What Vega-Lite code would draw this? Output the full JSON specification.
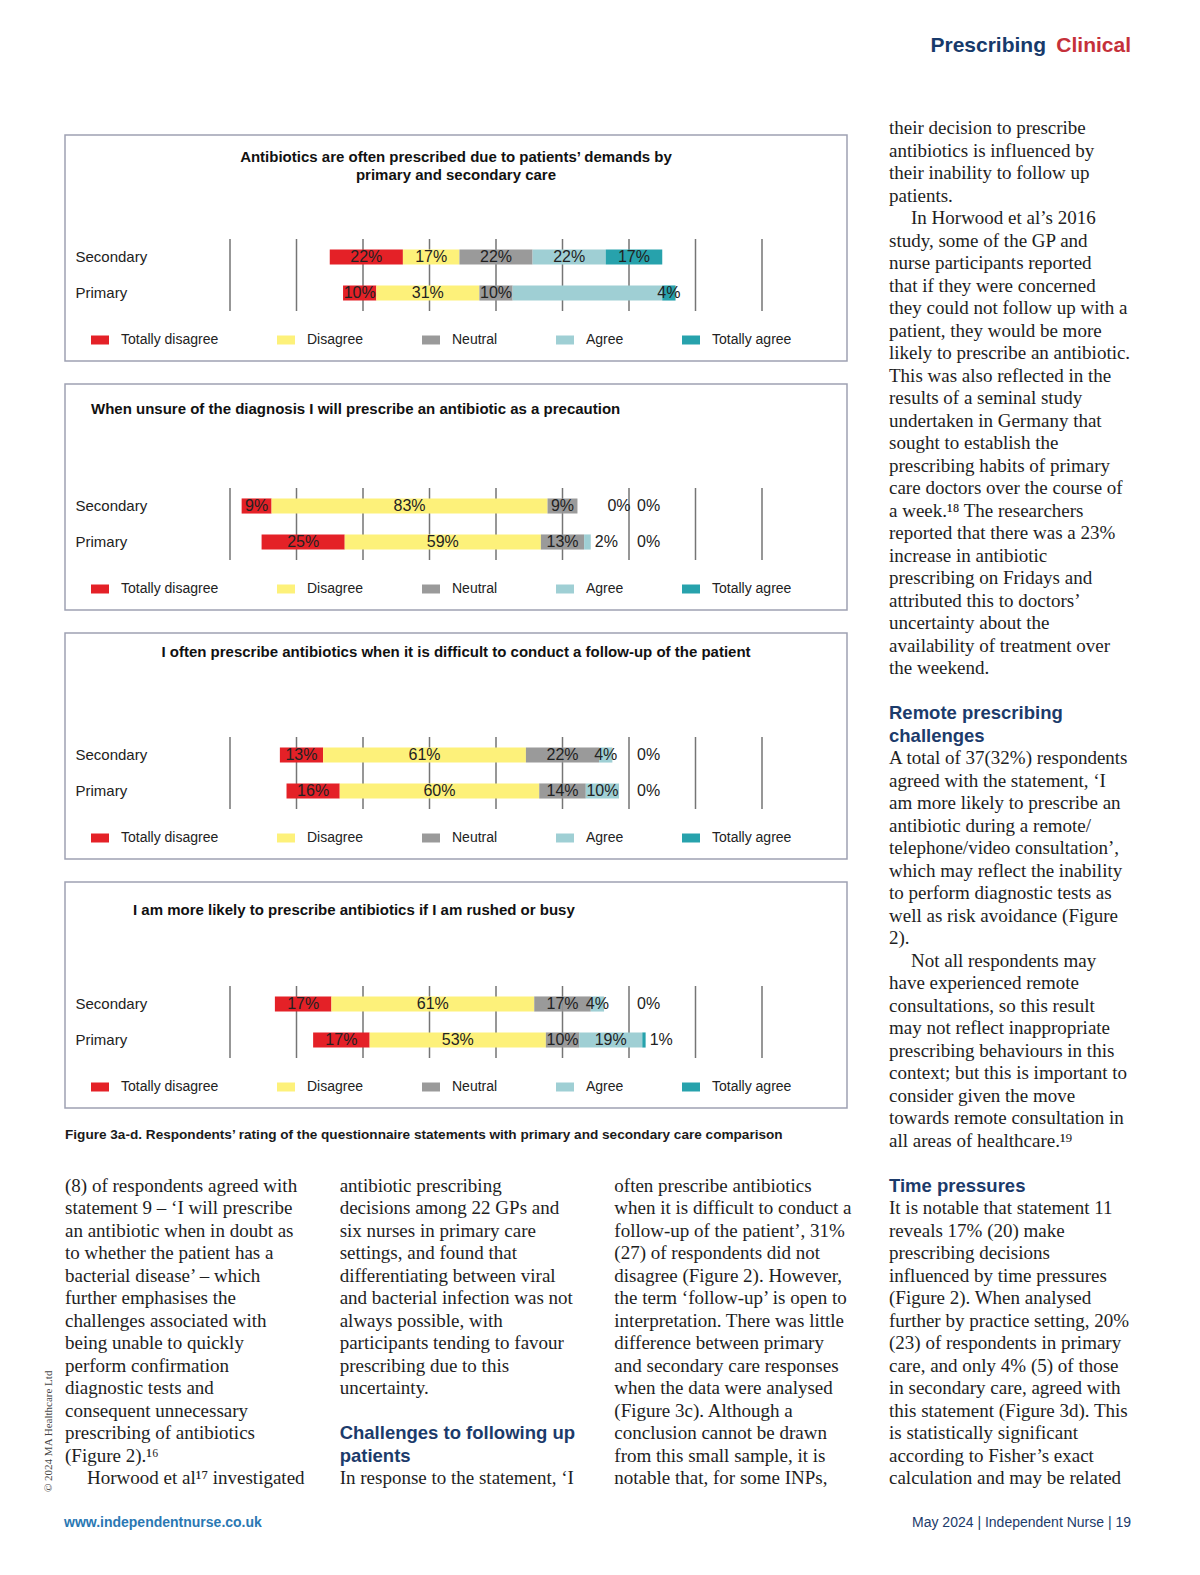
{
  "$schema": "https://vega.github.io/schema/vega-lite/v6.json",
  "background": "white",
  "padding": 0,
  "autosize": {"type": "pad"},
  "spacing": 0,
  "config": {
    "view": {"stroke": null},
    "font": "Liberation Sans",
    "axis": {"labelFontSize": 15, "labelFont": "Liberation Sans", "labelColor": "#222222"},
    "legend": {"labelFontSize": 14, "labelFont": "Liberation Sans", "labelColor": "#222222"}
  },
  "resolve": {"scale": {"color": "independent", "fill": "independent"}, "legend": {"color": "independent", "fill": "independent"}},
  "datasets": {
    "grid1": [
      {"g": -80, "group": ["Secondary", "Primary"]}, {"g": -60, "group": ["Secondary", "Primary"]},
      {"g": -40, "group": ["Secondary", "Primary"]}, {"g": -20, "group": ["Secondary", "Primary"]},
      {"g": 0, "group": ["Secondary", "Primary"]}, {"g": 20, "group": ["Secondary", "Primary"]},
      {"g": 40, "group": ["Secondary", "Primary"]}, {"g": 60, "group": ["Secondary", "Primary"]},
      {"g": 80, "group": ["Secondary", "Primary"]}
    ],
    "grid2": [
      {"g": -100, "group": ["Secondary", "Primary"]}, {"g": -80, "group": ["Secondary", "Primary"]},
      {"g": -60, "group": ["Secondary", "Primary"]}, {"g": -40, "group": ["Secondary", "Primary"]},
      {"g": -20, "group": ["Secondary", "Primary"]}, {"g": 0, "group": ["Secondary", "Primary"]},
      {"g": 20, "group": ["Secondary", "Primary"]}, {"g": 40, "group": ["Secondary", "Primary"]},
      {"g": 60, "group": ["Secondary", "Primary"]}
    ],
    "bars": [
      {"chart": "a", "group": "Secondary", "cat": "Totally disagree", "level": 2, "v": -22, "label": "22%"},
      {"chart": "a", "group": "Secondary", "cat": "Disagree", "level": 1, "v": -17, "label": "17%"},
      {"chart": "a", "group": "Secondary", "cat": "Neutral", "level": 0, "v": -11, "label": ""},
      {"chart": "a", "group": "Secondary", "cat": "Neutral", "level": 0, "v": 11, "label": "22%"},
      {"chart": "a", "group": "Secondary", "cat": "Agree", "level": 1, "v": 22, "label": "22%"},
      {"chart": "a", "group": "Secondary", "cat": "Totally agree", "level": 2, "v": 17, "label": "17%"},
      {"chart": "a", "group": "Primary", "cat": "Totally disagree", "level": 2, "v": -10, "label": "10%"},
      {"chart": "a", "group": "Primary", "cat": "Disagree", "level": 1, "v": -31, "label": "31%"},
      {"chart": "a", "group": "Primary", "cat": "Neutral", "level": 0, "v": -5, "label": ""},
      {"chart": "a", "group": "Primary", "cat": "Neutral", "level": 0, "v": 5, "label": "10%"},
      {"chart": "a", "group": "Primary", "cat": "Agree", "level": 1, "v": 45, "label": ""},
      {"chart": "a", "group": "Primary", "cat": "Totally agree", "level": 2, "v": 4, "label": "4%"},

      {"chart": "b", "group": "Secondary", "cat": "Totally disagree", "level": 2, "v": -9, "label": "9%"},
      {"chart": "b", "group": "Secondary", "cat": "Disagree", "level": 1, "v": -83, "label": "83%"},
      {"chart": "b", "group": "Secondary", "cat": "Neutral", "level": 0, "v": -4.5, "label": ""},
      {"chart": "b", "group": "Secondary", "cat": "Neutral", "level": 0, "v": 4.5, "label": "9%"},
      {"chart": "b", "group": "Secondary", "cat": "Agree", "level": 1, "v": 0, "label": "0%"},
      {"chart": "b", "group": "Secondary", "cat": "Totally agree", "level": 2, "v": 0, "label": "0%"},
      {"chart": "b", "group": "Primary", "cat": "Totally disagree", "level": 2, "v": -25, "label": "25%"},
      {"chart": "b", "group": "Primary", "cat": "Disagree", "level": 1, "v": -59, "label": "59%"},
      {"chart": "b", "group": "Primary", "cat": "Neutral", "level": 0, "v": -6.5, "label": ""},
      {"chart": "b", "group": "Primary", "cat": "Neutral", "level": 0, "v": 6.5, "label": "13%"},
      {"chart": "b", "group": "Primary", "cat": "Agree", "level": 1, "v": 2, "label": "2%"},
      {"chart": "b", "group": "Primary", "cat": "Totally agree", "level": 2, "v": 0, "label": "0%"},

      {"chart": "c", "group": "Secondary", "cat": "Totally disagree", "level": 2, "v": -13, "label": "13%"},
      {"chart": "c", "group": "Secondary", "cat": "Disagree", "level": 1, "v": -61, "label": "61%"},
      {"chart": "c", "group": "Secondary", "cat": "Neutral", "level": 0, "v": -11, "label": ""},
      {"chart": "c", "group": "Secondary", "cat": "Neutral", "level": 0, "v": 11, "label": "22%"},
      {"chart": "c", "group": "Secondary", "cat": "Agree", "level": 1, "v": 4, "label": "4%"},
      {"chart": "c", "group": "Secondary", "cat": "Totally agree", "level": 2, "v": 0, "label": "0%"},
      {"chart": "c", "group": "Primary", "cat": "Totally disagree", "level": 2, "v": -16, "label": "16%"},
      {"chart": "c", "group": "Primary", "cat": "Disagree", "level": 1, "v": -60, "label": "60%"},
      {"chart": "c", "group": "Primary", "cat": "Neutral", "level": 0, "v": -7, "label": ""},
      {"chart": "c", "group": "Primary", "cat": "Neutral", "level": 0, "v": 7, "label": "14%"},
      {"chart": "c", "group": "Primary", "cat": "Agree", "level": 1, "v": 10, "label": "10%"},
      {"chart": "c", "group": "Primary", "cat": "Totally agree", "level": 2, "v": 0, "label": "0%"},

      {"chart": "d", "group": "Secondary", "cat": "Totally disagree", "level": 2, "v": -17, "label": "17%"},
      {"chart": "d", "group": "Secondary", "cat": "Disagree", "level": 1, "v": -61, "label": "61%"},
      {"chart": "d", "group": "Secondary", "cat": "Neutral", "level": 0, "v": -8.5, "label": ""},
      {"chart": "d", "group": "Secondary", "cat": "Neutral", "level": 0, "v": 8.5, "label": "17%"},
      {"chart": "d", "group": "Secondary", "cat": "Agree", "level": 1, "v": 4, "label": "4%"},
      {"chart": "d", "group": "Secondary", "cat": "Totally agree", "level": 2, "v": 0, "label": "0%"},
      {"chart": "d", "group": "Primary", "cat": "Totally disagree", "level": 2, "v": -17, "label": "17%"},
      {"chart": "d", "group": "Primary", "cat": "Disagree", "level": 1, "v": -53, "label": "53%"},
      {"chart": "d", "group": "Primary", "cat": "Neutral", "level": 0, "v": -5, "label": ""},
      {"chart": "d", "group": "Primary", "cat": "Neutral", "level": 0, "v": 5, "label": "10%"},
      {"chart": "d", "group": "Primary", "cat": "Agree", "level": 1, "v": 19, "label": "19%"},
      {"chart": "d", "group": "Primary", "cat": "Totally agree", "level": 2, "v": 1, "label": "1%"}
    ],
    "text": [
      {"col": 4, "line": 0, "kind": "body", "text": "their decision to prescribe"},
      {"col": 4, "line": 1, "kind": "body", "text": "antibiotics is influenced by"},
      {"col": 4, "line": 2, "kind": "body", "text": "their inability to follow up"},
      {"col": 4, "line": 3, "kind": "body", "text": "patients."},
      {"col": 4, "line": 4, "kind": "para", "text": "In Horwood et al’s 2016"},
      {"col": 4, "line": 5, "kind": "body", "text": "study, some of the GP and"},
      {"col": 4, "line": 6, "kind": "body", "text": "nurse participants reported"},
      {"col": 4, "line": 7, "kind": "body", "text": "that if they were concerned"},
      {"col": 4, "line": 8, "kind": "body", "text": "they could not follow up with a"},
      {"col": 4, "line": 9, "kind": "body", "text": "patient, they would be more"},
      {"col": 4, "line": 10, "kind": "body", "text": "likely to prescribe an antibiotic."},
      {"col": 4, "line": 11, "kind": "body", "text": "This was also reflected in the"},
      {"col": 4, "line": 12, "kind": "body", "text": "results of a seminal study"},
      {"col": 4, "line": 13, "kind": "body", "text": "undertaken in Germany that"},
      {"col": 4, "line": 14, "kind": "body", "text": "sought to establish the"},
      {"col": 4, "line": 15, "kind": "body", "text": "prescribing habits of primary"},
      {"col": 4, "line": 16, "kind": "body", "text": "care doctors over the course of"},
      {"col": 4, "line": 17, "kind": "body", "text": "a week.¹⁸ The researchers"},
      {"col": 4, "line": 18, "kind": "body", "text": "reported that there was a 23%"},
      {"col": 4, "line": 19, "kind": "body", "text": "increase in antibiotic"},
      {"col": 4, "line": 20, "kind": "body", "text": "prescribing on Fridays and"},
      {"col": 4, "line": 21, "kind": "body", "text": "attributed this to doctors’"},
      {"col": 4, "line": 22, "kind": "body", "text": "uncertainty about the"},
      {"col": 4, "line": 23, "kind": "body", "text": "availability of treatment over"},
      {"col": 4, "line": 24, "kind": "body", "text": "the weekend."},
      {"col": 4, "line": 26, "kind": "heading", "text": "Remote prescribing"},
      {"col": 4, "line": 27, "kind": "heading", "text": "challenges"},
      {"col": 4, "line": 28, "kind": "body", "text": "A total of 37(32%) respondents"},
      {"col": 4, "line": 29, "kind": "body", "text": "agreed with the statement, ‘I"},
      {"col": 4, "line": 30, "kind": "body", "text": "am more likely to prescribe an"},
      {"col": 4, "line": 31, "kind": "body", "text": "antibiotic during a remote/"},
      {"col": 4, "line": 32, "kind": "body", "text": "telephone/video consultation’,"},
      {"col": 4, "line": 33, "kind": "body", "text": "which may reflect the inability"},
      {"col": 4, "line": 34, "kind": "body", "text": "to perform diagnostic tests as"},
      {"col": 4, "line": 35, "kind": "body", "text": "well as risk avoidance (Figure"},
      {"col": 4, "line": 36, "kind": "body", "text": "2)."},
      {"col": 4, "line": 37, "kind": "para", "text": "Not all respondents may"},
      {"col": 4, "line": 38, "kind": "body", "text": "have experienced remote"},
      {"col": 4, "line": 39, "kind": "body", "text": "consultations, so this result"},
      {"col": 4, "line": 40, "kind": "body", "text": "may not reflect inappropriate"},
      {"col": 4, "line": 41, "kind": "body", "text": "prescribing behaviours in this"},
      {"col": 4, "line": 42, "kind": "body", "text": "context; but this is important to"},
      {"col": 4, "line": 43, "kind": "body", "text": "consider given the move"},
      {"col": 4, "line": 44, "kind": "body", "text": "towards remote consultation in"},
      {"col": 4, "line": 45, "kind": "body", "text": "all areas of healthcare.¹⁹"},
      {"col": 4, "line": 47, "kind": "heading", "text": "Time pressures"},
      {"col": 4, "line": 48, "kind": "body", "text": "It is notable that statement 11"},
      {"col": 4, "line": 49, "kind": "body", "text": "reveals 17% (20) make"},
      {"col": 4, "line": 50, "kind": "body", "text": "prescribing decisions"},
      {"col": 4, "line": 51, "kind": "body", "text": "influenced by time pressures"},
      {"col": 4, "line": 52, "kind": "body", "text": "(Figure 2). When analysed"},
      {"col": 4, "line": 53, "kind": "body", "text": "further by practice setting, 20%"},
      {"col": 4, "line": 54, "kind": "body", "text": "(23) of respondents in primary"},
      {"col": 4, "line": 55, "kind": "body", "text": "care, and only 4% (5) of those"},
      {"col": 4, "line": 56, "kind": "body", "text": "in secondary care, agreed with"},
      {"col": 4, "line": 57, "kind": "body", "text": "this statement (Figure 3d). This"},
      {"col": 4, "line": 58, "kind": "body", "text": "is statistically significant"},
      {"col": 4, "line": 59, "kind": "body", "text": "according to Fisher’s exact"},
      {"col": 4, "line": 60, "kind": "body", "text": "calculation and may be related"},

      {"col": 1, "line": 47, "kind": "body", "text": "(8) of respondents agreed with"},
      {"col": 1, "line": 48, "kind": "body", "text": "statement 9 – ‘I will prescribe"},
      {"col": 1, "line": 49, "kind": "body", "text": "an antibiotic when in doubt as"},
      {"col": 1, "line": 50, "kind": "body", "text": "to whether the patient has a"},
      {"col": 1, "line": 51, "kind": "body", "text": "bacterial disease’ – which"},
      {"col": 1, "line": 52, "kind": "body", "text": "further emphasises the"},
      {"col": 1, "line": 53, "kind": "body", "text": "challenges associated with"},
      {"col": 1, "line": 54, "kind": "body", "text": "being unable to quickly"},
      {"col": 1, "line": 55, "kind": "body", "text": "perform confirmation"},
      {"col": 1, "line": 56, "kind": "body", "text": "diagnostic tests and"},
      {"col": 1, "line": 57, "kind": "body", "text": "consequent unnecessary"},
      {"col": 1, "line": 58, "kind": "body", "text": "prescribing of antibiotics"},
      {"col": 1, "line": 59, "kind": "body", "text": "(Figure 2).¹⁶"},
      {"col": 1, "line": 60, "kind": "para", "text": "Horwood et al¹⁷ investigated"},

      {"col": 2, "line": 47, "kind": "body", "text": "antibiotic prescribing"},
      {"col": 2, "line": 48, "kind": "body", "text": "decisions among 22 GPs and"},
      {"col": 2, "line": 49, "kind": "body", "text": "six nurses in primary care"},
      {"col": 2, "line": 50, "kind": "body", "text": "settings, and found that"},
      {"col": 2, "line": 51, "kind": "body", "text": "differentiating between viral"},
      {"col": 2, "line": 52, "kind": "body", "text": "and bacterial infection was not"},
      {"col": 2, "line": 53, "kind": "body", "text": "always possible, with"},
      {"col": 2, "line": 54, "kind": "body", "text": "participants tending to favour"},
      {"col": 2, "line": 55, "kind": "body", "text": "prescribing due to this"},
      {"col": 2, "line": 56, "kind": "body", "text": "uncertainty."},
      {"col": 2, "line": 58, "kind": "heading", "text": "Challenges to following up"},
      {"col": 2, "line": 59, "kind": "heading", "text": "patients"},
      {"col": 2, "line": 60, "kind": "body", "text": "In response to the statement, ‘I"},

      {"col": 3, "line": 47, "kind": "body", "text": "often prescribe antibiotics"},
      {"col": 3, "line": 48, "kind": "body", "text": "when it is difficult to conduct a"},
      {"col": 3, "line": 49, "kind": "body", "text": "follow-up of the patient’, 31%"},
      {"col": 3, "line": 50, "kind": "body", "text": "(27) of respondents did not"},
      {"col": 3, "line": 51, "kind": "body", "text": "disagree (Figure 2). However,"},
      {"col": 3, "line": 52, "kind": "body", "text": "the term ‘follow-up’ is open to"},
      {"col": 3, "line": 53, "kind": "body", "text": "interpretation. There was little"},
      {"col": 3, "line": 54, "kind": "body", "text": "difference between primary"},
      {"col": 3, "line": 55, "kind": "body", "text": "and secondary care responses"},
      {"col": 3, "line": 56, "kind": "body", "text": "when the data were analysed"},
      {"col": 3, "line": 57, "kind": "body", "text": "(Figure 3c). Although a"},
      {"col": 3, "line": 58, "kind": "body", "text": "conclusion cannot be drawn"},
      {"col": 3, "line": 59, "kind": "body", "text": "from this small sample, it is"},
      {"col": 3, "line": 60, "kind": "body", "text": "notable that, for some INPs,"}
    ]
  },
  "vconcat": [
    {
      "width": 1200, "height": 92,
      "data": {"values": [{"section": "Prescribing"}, {"section": "Clinical"}]},
      "mark": {"type": "text", "align": "right", "baseline": "middle", "font": "Liberation Sans", "fontSize": 21, "fontWeight": "bold"},
      "encoding": {
        "x": {"field": "section", "type": "nominal", "scale": {"type": "point", "domain": ["Prescribing", "Clinical"], "range": [1046, 1131], "padding": 0}, "axis": null},
        "text": {"field": "section", "type": "nominal"},
        "color": {"field": "section", "type": "nominal", "scale": {"domain": ["Prescribing", "Clinical"], "range": ["#173a6b", "#c5303a"]}, "legend": null}
      }
    },
    {
      "hconcat": [
        {
          "width": 64, "height": 1408,
          "data": {"values": [{"n": 1}]},
          "mark": {"type": "text", "text": " "},
          "title": {"text": "© 2024 MA Healthcare Ltd", "orient": "right", "anchor": "end", "angle": -90, "align": "left", "baseline": "middle", "offset": -26, "dx": 8, "font": "Liberation Serif", "fontSize": 11, "fontWeight": "normal", "color": "#444444"}
        },
        {
          "vconcat": [
            {"width": 782, "height": 20, "data": {"values": [{"n": 1}]}, "mark": {"type": "text", "text": " "}},
            {
              "width": 782, "height": 226,
              "view": {"stroke": "#9ea1b3", "strokeWidth": 1.5},
              "title": {"text": ["Antibiotics are often prescribed due to patients’ demands by", "primary and secondary care"], "anchor": "middle", "frame": "group", "offset": -47.5, "font": "Liberation Sans", "fontSize": 15, "fontWeight": "bold", "color": "#111111", "lineHeight": 18},
              "encoding": {"y": {"field": "group", "type": "nominal", "scale": {"domain": ["Secondary", "Primary"], "range": [104, 176], "paddingInner": 0, "paddingOuter": 0}, "axis": {"title": null, "domain": false, "ticks": false, "labelAlign": "left", "labelPadding": -10, "labelFontSize": 15, "labelColor": "#222222", "labelFont": "Liberation Sans", "labelBaseline": "middle"}}},
              "layer": [
                {"data": {"name": "grid1"}, "transform": [{"flatten": ["group"]}], "mark": {"type": "tick", "size": 36, "thickness": 1.5, "color": "#3a3a3a"}, "encoding": {"x": {"field": "g", "type": "quantitative", "scale": {"domain": [-80, 80], "range": [165, 697], "nice": false}, "axis": null}}},
                {"data": {"name": "bars"}, "transform": [{"filter": "datum.chart == 'a'"}], "mark": {"type": "bar", "height": {"band": 0.42}}, "encoding": {"x": {"field": "v", "type": "quantitative", "stack": "zero", "scale": {"domain": [-80, 80], "range": [165, 697], "nice": false}, "axis": null}, "fill": {"field": "cat", "type": "nominal", "scale": {"domain": ["Totally disagree", "Disagree", "Neutral", "Agree", "Totally agree"], "range": ["#e42127", "#fdf17a", "#9a9a9a", "#9fcfd4", "#27a2ac"]}, "legend": {"orient": "none", "legendX": 26, "legendY": 196, "direction": "horizontal", "columns": 5, "title": null, "symbolType": "M-1,-0.5H1V0.5H-1Z", "symbolSize": 324, "symbolStrokeWidth": 0, "labelFont": "Liberation Sans", "labelFontSize": 14, "labelColor": "#222222", "labelOffset": 12, "columnPadding": 58, "padding": 0}}, "detail": {"field": "cat", "type": "nominal"}, "order": {"field": "level", "type": "quantitative"}}},
                {"data": {"name": "bars"}, "transform": [{"filter": "datum.chart == 'a'"}], "mark": {"type": "text", "font": "Liberation Sans", "fontSize": 16, "color": "#222222", "baseline": "middle", "align": "center"}, "encoding": {"x": {"field": "v", "type": "quantitative", "stack": "zero", "bandPosition": 0.5, "scale": {"domain": [-80, 80], "range": [165, 697], "nice": false}, "axis": null}, "detail": {"field": "cat", "type": "nominal"}, "order": {"field": "level", "type": "quantitative"}, "text": {"condition": {"test": "datum.level == 0 || (datum.v >= 0 && datum.v <= 2)", "value": ""}, "field": "label", "type": "nominal"}}},
                {"data": {"name": "bars"}, "transform": [{"filter": "datum.chart == 'a' && datum.level == 0 && datum.v > 0"}], "mark": {"type": "text", "font": "Liberation Sans", "fontSize": 16, "color": "#222222", "baseline": "middle", "align": "center"}, "encoding": {"x": {"datum": 0, "type": "quantitative", "scale": {"domain": [-80, 80], "range": [165, 697], "nice": false}, "axis": null}, "text": {"field": "label", "type": "nominal"}}}
              ]
            },
            {
              "width": 782, "height": 226,
              "view": {"stroke": "#9ea1b3", "strokeWidth": 1.5},
              "title": {"text": "When unsure of the diagnosis I will prescribe an antibiotic as a precaution", "anchor": "start", "frame": "group", "dx": 26, "offset": -32.5, "font": "Liberation Sans", "fontSize": 15, "fontWeight": "bold", "color": "#111111"},
              "encoding": {"y": {"field": "group", "type": "nominal", "scale": {"domain": ["Secondary", "Primary"], "range": [104, 176], "paddingInner": 0, "paddingOuter": 0}, "axis": {"title": null, "domain": false, "ticks": false, "labelAlign": "left", "labelPadding": -10, "labelFontSize": 15, "labelColor": "#222222", "labelFont": "Liberation Sans", "labelBaseline": "middle"}}},
              "layer": [
                {"data": {"name": "grid2"}, "transform": [{"flatten": ["group"]}], "mark": {"type": "tick", "size": 36, "thickness": 1.5, "color": "#3a3a3a"}, "encoding": {"x": {"field": "g", "type": "quantitative", "scale": {"domain": [-100, 60], "range": [165, 697], "nice": false}, "axis": null}}},
                {"data": {"name": "bars"}, "transform": [{"filter": "datum.chart == 'b'"}], "mark": {"type": "bar", "height": {"band": 0.42}}, "encoding": {"x": {"field": "v", "type": "quantitative", "stack": "zero", "scale": {"domain": [-100, 60], "range": [165, 697], "nice": false}, "axis": null}, "fill": {"field": "cat", "type": "nominal", "scale": {"domain": ["Totally disagree", "Disagree", "Neutral", "Agree", "Totally agree"], "range": ["#e42127", "#fdf17a", "#9a9a9a", "#9fcfd4", "#27a2ac"]}, "legend": {"orient": "none", "legendX": 26, "legendY": 196, "direction": "horizontal", "columns": 5, "title": null, "symbolType": "M-1,-0.5H1V0.5H-1Z", "symbolSize": 324, "symbolStrokeWidth": 0, "labelFont": "Liberation Sans", "labelFontSize": 14, "labelColor": "#222222", "labelOffset": 12, "columnPadding": 58, "padding": 0}}, "detail": {"field": "cat", "type": "nominal"}, "order": {"field": "level", "type": "quantitative"}}},
                {"data": {"name": "bars"}, "transform": [{"filter": "datum.chart == 'b'"}], "mark": {"type": "text", "font": "Liberation Sans", "fontSize": 16, "color": "#222222", "baseline": "middle", "align": "center"}, "encoding": {"x": {"field": "v", "type": "quantitative", "stack": "zero", "bandPosition": 0.5, "scale": {"domain": [-100, 60], "range": [165, 697], "nice": false}, "axis": null}, "detail": {"field": "cat", "type": "nominal"}, "order": {"field": "level", "type": "quantitative"}, "text": {"condition": {"test": "datum.level == 0 || (datum.v >= 0 && datum.v <= 2)", "value": ""}, "field": "label", "type": "nominal"}}},
                {"data": {"name": "bars"}, "transform": [{"filter": "datum.chart == 'b' && datum.level == 0 && datum.v > 0"}], "mark": {"type": "text", "font": "Liberation Sans", "fontSize": 16, "color": "#222222", "baseline": "middle", "align": "center"}, "encoding": {"x": {"datum": 0, "type": "quantitative", "scale": {"domain": [-100, 60], "range": [165, 697], "nice": false}, "axis": null}, "text": {"field": "label", "type": "nominal"}}},
                {"data": {"name": "bars"}, "transform": [{"filter": "datum.chart == 'b'"}, {"stack": "v", "groupby": ["group"], "sort": [{"field": "level", "order": "ascending"}], "as": ["s0", "s1"]}, {"filter": "datum.level == 1 && datum.v == 0"}], "mark": {"type": "text", "font": "Liberation Sans", "fontSize": 16, "color": "#222222", "baseline": "middle", "align": "left", "dx": 30}, "encoding": {"x": {"field": "s1", "type": "quantitative", "scale": {"domain": [-100, 60], "range": [165, 697], "nice": false}, "axis": null}, "text": {"field": "label", "type": "nominal"}}},
                {"data": {"name": "bars"}, "transform": [{"filter": "datum.chart == 'b'"}, {"stack": "v", "groupby": ["group"], "sort": [{"field": "level", "order": "ascending"}], "as": ["s0", "s1"]}, {"filter": "datum.level > 0 && datum.v > 0 && datum.v <= 2"}], "mark": {"type": "text", "font": "Liberation Sans", "fontSize": 16, "color": "#222222", "baseline": "middle", "align": "left", "dx": 4}, "encoding": {"x": {"field": "s1", "type": "quantitative", "scale": {"domain": [-100, 60], "range": [165, 697], "nice": false}, "axis": null}, "text": {"field": "label", "type": "nominal"}}},
                {"data": {"name": "bars"}, "transform": [{"filter": "datum.chart == 'b' && datum.level == 2 && datum.v == 0"}], "mark": {"type": "text", "font": "Liberation Sans", "fontSize": 16, "color": "#222222", "baseline": "middle", "align": "left", "dx": 8}, "encoding": {"x": {"datum": 20, "type": "quantitative", "scale": {"domain": [-100, 60], "range": [165, 697], "nice": false}, "axis": null}, "text": {"field": "label", "type": "nominal"}}}
              ]
            },
            {
              "width": 782, "height": 226,
              "view": {"stroke": "#9ea1b3", "strokeWidth": 1.5},
              "title": {"text": "I often prescribe antibiotics when it is difficult to conduct a follow-up of the patient", "anchor": "middle", "frame": "group", "offset": -27, "font": "Liberation Sans", "fontSize": 15, "fontWeight": "bold", "color": "#111111"},
              "encoding": {"y": {"field": "group", "type": "nominal", "scale": {"domain": ["Secondary", "Primary"], "range": [104, 176], "paddingInner": 0, "paddingOuter": 0}, "axis": {"title": null, "domain": false, "ticks": false, "labelAlign": "left", "labelPadding": -10, "labelFontSize": 15, "labelColor": "#222222", "labelFont": "Liberation Sans", "labelBaseline": "middle"}}},
              "layer": [
                {"data": {"name": "grid2"}, "transform": [{"flatten": ["group"]}], "mark": {"type": "tick", "size": 36, "thickness": 1.5, "color": "#3a3a3a"}, "encoding": {"x": {"field": "g", "type": "quantitative", "scale": {"domain": [-100, 60], "range": [165, 697], "nice": false}, "axis": null}}},
                {"data": {"name": "bars"}, "transform": [{"filter": "datum.chart == 'c'"}], "mark": {"type": "bar", "height": {"band": 0.42}}, "encoding": {"x": {"field": "v", "type": "quantitative", "stack": "zero", "scale": {"domain": [-100, 60], "range": [165, 697], "nice": false}, "axis": null}, "fill": {"field": "cat", "type": "nominal", "scale": {"domain": ["Totally disagree", "Disagree", "Neutral", "Agree", "Totally agree"], "range": ["#e42127", "#fdf17a", "#9a9a9a", "#9fcfd4", "#27a2ac"]}, "legend": {"orient": "none", "legendX": 26, "legendY": 196, "direction": "horizontal", "columns": 5, "title": null, "symbolType": "M-1,-0.5H1V0.5H-1Z", "symbolSize": 324, "symbolStrokeWidth": 0, "labelFont": "Liberation Sans", "labelFontSize": 14, "labelColor": "#222222", "labelOffset": 12, "columnPadding": 58, "padding": 0}}, "detail": {"field": "cat", "type": "nominal"}, "order": {"field": "level", "type": "quantitative"}}},
                {"data": {"name": "bars"}, "transform": [{"filter": "datum.chart == 'c'"}], "mark": {"type": "text", "font": "Liberation Sans", "fontSize": 16, "color": "#222222", "baseline": "middle", "align": "center"}, "encoding": {"x": {"field": "v", "type": "quantitative", "stack": "zero", "bandPosition": 0.5, "scale": {"domain": [-100, 60], "range": [165, 697], "nice": false}, "axis": null}, "detail": {"field": "cat", "type": "nominal"}, "order": {"field": "level", "type": "quantitative"}, "text": {"condition": {"test": "datum.level == 0 || (datum.v >= 0 && datum.v <= 2)", "value": ""}, "field": "label", "type": "nominal"}}},
                {"data": {"name": "bars"}, "transform": [{"filter": "datum.chart == 'c' && datum.level == 0 && datum.v > 0"}], "mark": {"type": "text", "font": "Liberation Sans", "fontSize": 16, "color": "#222222", "baseline": "middle", "align": "center"}, "encoding": {"x": {"datum": 0, "type": "quantitative", "scale": {"domain": [-100, 60], "range": [165, 697], "nice": false}, "axis": null}, "text": {"field": "label", "type": "nominal"}}},
                {"data": {"name": "bars"}, "transform": [{"filter": "datum.chart == 'c' && datum.level == 2 && datum.v == 0"}], "mark": {"type": "text", "font": "Liberation Sans", "fontSize": 16, "color": "#222222", "baseline": "middle", "align": "left", "dx": 8}, "encoding": {"x": {"datum": 20, "type": "quantitative", "scale": {"domain": [-100, 60], "range": [165, 697], "nice": false}, "axis": null}, "text": {"field": "label", "type": "nominal"}}}
              ]
            },
            {
              "width": 782, "height": 226,
              "view": {"stroke": "#9ea1b3", "strokeWidth": 1.5},
              "title": {"text": "I am more likely to prescribe antibiotics if I am rushed or busy", "anchor": "start", "frame": "group", "dx": 68, "offset": -36, "font": "Liberation Sans", "fontSize": 15, "fontWeight": "bold", "color": "#111111"},
              "encoding": {"y": {"field": "group", "type": "nominal", "scale": {"domain": ["Secondary", "Primary"], "range": [104, 176], "paddingInner": 0, "paddingOuter": 0}, "axis": {"title": null, "domain": false, "ticks": false, "labelAlign": "left", "labelPadding": -10, "labelFontSize": 15, "labelColor": "#222222", "labelFont": "Liberation Sans", "labelBaseline": "middle"}}},
              "layer": [
                {"data": {"name": "grid2"}, "transform": [{"flatten": ["group"]}], "mark": {"type": "tick", "size": 36, "thickness": 1.5, "color": "#3a3a3a"}, "encoding": {"x": {"field": "g", "type": "quantitative", "scale": {"domain": [-100, 60], "range": [165, 697], "nice": false}, "axis": null}}},
                {"data": {"name": "bars"}, "transform": [{"filter": "datum.chart == 'd'"}], "mark": {"type": "bar", "height": {"band": 0.42}}, "encoding": {"x": {"field": "v", "type": "quantitative", "stack": "zero", "scale": {"domain": [-100, 60], "range": [165, 697], "nice": false}, "axis": null}, "fill": {"field": "cat", "type": "nominal", "scale": {"domain": ["Totally disagree", "Disagree", "Neutral", "Agree", "Totally agree"], "range": ["#e42127", "#fdf17a", "#9a9a9a", "#9fcfd4", "#27a2ac"]}, "legend": {"orient": "none", "legendX": 26, "legendY": 196, "direction": "horizontal", "columns": 5, "title": null, "symbolType": "M-1,-0.5H1V0.5H-1Z", "symbolSize": 324, "symbolStrokeWidth": 0, "labelFont": "Liberation Sans", "labelFontSize": 14, "labelColor": "#222222", "labelOffset": 12, "columnPadding": 58, "padding": 0}}, "detail": {"field": "cat", "type": "nominal"}, "order": {"field": "level", "type": "quantitative"}}},
                {"data": {"name": "bars"}, "transform": [{"filter": "datum.chart == 'd'"}], "mark": {"type": "text", "font": "Liberation Sans", "fontSize": 16, "color": "#222222", "baseline": "middle", "align": "center"}, "encoding": {"x": {"field": "v", "type": "quantitative", "stack": "zero", "bandPosition": 0.5, "scale": {"domain": [-100, 60], "range": [165, 697], "nice": false}, "axis": null}, "detail": {"field": "cat", "type": "nominal"}, "order": {"field": "level", "type": "quantitative"}, "text": {"condition": {"test": "datum.level == 0 || (datum.v >= 0 && datum.v <= 2)", "value": ""}, "field": "label", "type": "nominal"}}},
                {"data": {"name": "bars"}, "transform": [{"filter": "datum.chart == 'd' && datum.level == 0 && datum.v > 0"}], "mark": {"type": "text", "font": "Liberation Sans", "fontSize": 16, "color": "#222222", "baseline": "middle", "align": "center"}, "encoding": {"x": {"datum": 0, "type": "quantitative", "scale": {"domain": [-100, 60], "range": [165, 697], "nice": false}, "axis": null}, "text": {"field": "label", "type": "nominal"}}},
                {"data": {"name": "bars"}, "transform": [{"filter": "datum.chart == 'd'"}, {"stack": "v", "groupby": ["group"], "sort": [{"field": "level", "order": "ascending"}], "as": ["s0", "s1"]}, {"filter": "datum.level > 0 && datum.v > 0 && datum.v <= 2"}], "mark": {"type": "text", "font": "Liberation Sans", "fontSize": 16, "color": "#222222", "baseline": "middle", "align": "left", "dx": 4}, "encoding": {"x": {"field": "s1", "type": "quantitative", "scale": {"domain": [-100, 60], "range": [165, 697], "nice": false}, "axis": null}, "text": {"field": "label", "type": "nominal"}}},
                {"data": {"name": "bars"}, "transform": [{"filter": "datum.chart == 'd' && datum.level == 2 && datum.v == 0"}], "mark": {"type": "text", "font": "Liberation Sans", "fontSize": 16, "color": "#222222", "baseline": "middle", "align": "left", "dx": 8}, "encoding": {"x": {"datum": 20, "type": "quantitative", "scale": {"domain": [-100, 60], "range": [165, 697], "nice": false}, "axis": null}, "text": {"field": "label", "type": "nominal"}}}
              ]
            },
            {
              "width": 800, "height": 369,
              "title": {"text": "Figure 3a-d. Respondents’ rating of the questionnaire statements with primary and secondary care comparison", "anchor": "start", "frame": "group", "offset": -11, "font": "Liberation Sans", "fontSize": 13.6, "fontWeight": "bold", "color": "#1a1a1a"},
              "data": {"name": "text"},
              "transform": [{"filter": "datum.col < 4"}],
              "encoding": {
                "x": {"field": "col", "type": "quantitative", "scale": {"domain": [1, 4], "range": [0, 824], "nice": false, "zero": false}, "axis": null},
                "y": {"field": "line", "type": "quantitative", "scale": {"domain": [0, 60], "range": [-1003, 347], "nice": false, "zero": false}, "axis": null},
                "text": {"field": "text", "type": "nominal"}
              },
              "layer": [
                {"transform": [{"filter": "datum.kind == 'body'"}], "mark": {"type": "text", "align": "left", "baseline": "middle", "font": "Liberation Serif", "fontSize": 19, "color": "#1e1e1e"}},
                {"transform": [{"filter": "datum.kind == 'para'"}], "mark": {"type": "text", "align": "left", "baseline": "middle", "dx": 22, "font": "Liberation Serif", "fontSize": 19, "color": "#1e1e1e"}},
                {"transform": [{"filter": "datum.kind == 'heading'"}], "mark": {"type": "text", "align": "left", "baseline": "middle", "font": "Liberation Sans", "fontSize": 18.5, "fontWeight": "bold", "color": "#1c3b6b"}}
              ]
            }
          ],
          "spacing": 23,
          "bounds": "flush",
          "resolve": {"scale": {"color": "independent", "fill": "independent"}, "legend": {"color": "independent", "fill": "independent"}}
        },
        {
          "width": 336, "height": 1408,
          "data": {"name": "text"},
          "transform": [{"filter": "datum.col == 4"}],
          "encoding": {
            "x": {"field": "col", "type": "quantitative", "scale": {"domain": [1, 4], "range": [-800, 24], "nice": false, "zero": false}, "axis": null},
            "y": {"field": "line", "type": "quantitative", "scale": {"domain": [0, 60], "range": [36, 1386], "nice": false, "zero": false}, "axis": null},
            "text": {"field": "text", "type": "nominal"}
          },
          "layer": [
            {"transform": [{"filter": "datum.kind == 'body'"}], "mark": {"type": "text", "align": "left", "baseline": "middle", "font": "Liberation Serif", "fontSize": 19, "color": "#1e1e1e"}},
            {"transform": [{"filter": "datum.kind == 'para'"}], "mark": {"type": "text", "align": "left", "baseline": "middle", "dx": 22, "font": "Liberation Serif", "fontSize": 19, "color": "#1e1e1e"}},
            {"transform": [{"filter": "datum.kind == 'heading'"}], "mark": {"type": "text", "align": "left", "baseline": "middle", "font": "Liberation Sans", "fontSize": 18.5, "fontWeight": "bold", "color": "#1c3b6b"}}
          ]
        }
      ],
      "spacing": 0,
      "resolve": {"scale": {"color": "independent", "fill": "independent"}, "legend": {"color": "independent", "fill": "independent"}}
    },
    {
      "width": 1200, "height": 46,
      "data": {"values": [
        {"item": "url", "text": "www.independentnurse.co.uk"},
        {"item": "folio", "text": "May 2024 | Independent Nurse | 19"}
      ]},
      "encoding": {
        "x": {"field": "item", "type": "nominal", "scale": {"type": "point", "domain": ["url", "folio"], "range": [64, 1131], "padding": 0}, "axis": null},
        "text": {"field": "text", "type": "nominal"}
      },
      "layer": [
        {"transform": [{"filter": "datum.item == 'url'"}], "mark": {"type": "text", "align": "left", "baseline": "middle", "font": "Liberation Sans", "fontSize": 14, "fontWeight": "bold", "color": "#2a78b3"}},
        {"transform": [{"filter": "datum.item == 'folio'"}], "mark": {"type": "text", "align": "right", "baseline": "middle", "font": "Liberation Sans", "fontSize": 14, "color": "#1c3b6b"}}
      ]
    }
  ]
}
